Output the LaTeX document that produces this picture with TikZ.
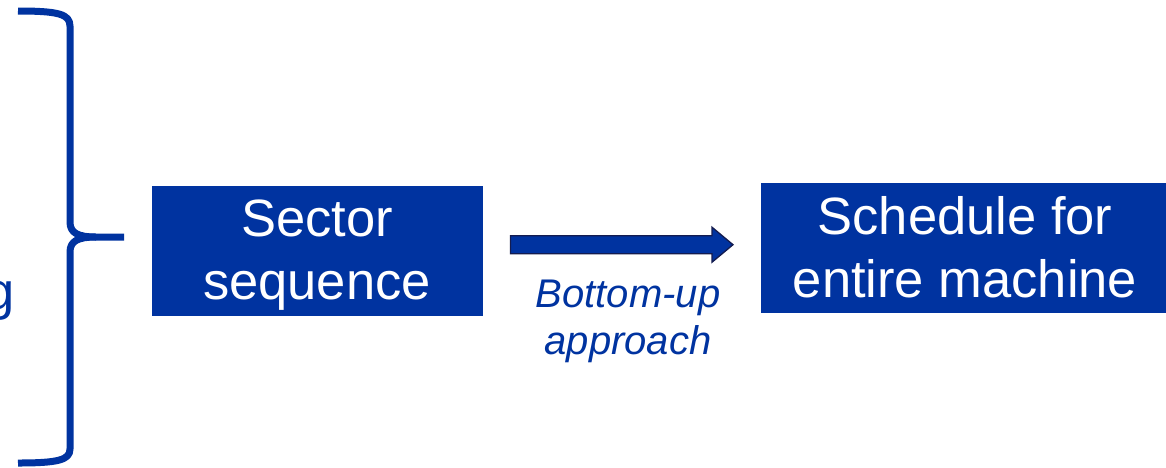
\documentclass[tikz,border=0pt]{standalone}
\usepackage{fontspec}
\setmainfont{Liberation Sans}
\usetikzlibrary{calc}
\definecolor{corpblue}{RGB}{0,51,160}
\definecolor{arrowedge}{RGB}{20,28,80}
\tikzset{
  bluebox/.style={fill=corpblue, draw=none, inner sep=0pt, anchor=north west},
  boxtext/.style={text=white, align=center, inner sep=0pt,
    font=\fontsize{52.5}{63}\selectfont},
  notetext/.style={text=corpblue, align=center, inner sep=0pt,
    font=\fontsize{40}{46.5}\selectfont\itshape},
  bracestroke/.style={draw=corpblue, line width=7pt, line cap=butt, line join=round},
  blockarrow/.style={fill=corpblue, draw=arrowedge, line width=1.3pt, line join=miter}
}
\begin{document}
\begin{tikzpicture}[x=1pt,y=-1pt]
\useasboundingbox (0,0) rectangle (1166,467);

% trailing letter of the grouped text on the left
\node[text=corpblue, inner sep=0pt, anchor=base east,
      font=\fontsize{52.5}{63}\selectfont] (lefttext) at (15,309) {g};

% right brace
\draw[bracestroke]
  (18,11) .. controls (58,11) and (70,14) .. (70,26)
  -- (70,222) .. controls (70,233) and (78,237) .. (96,237)
  -- (124,237);
\draw[bracestroke]
  (96,237) .. controls (78,237) and (70,241) .. (70,252)
  -- (70,449) .. controls (70,460) and (58,463) .. (18,463);
\coordinate (bracetip) at (124,237);

% boxes
\node[bluebox, minimum width=331pt, minimum height=130pt] (sector) at (152,186) {};
\node[boxtext] (sectortext) at (317,255.5) {Sector\\sequence};

\node[bluebox, minimum width=405pt, minimum height=130pt] (machine) at (761,183) {};
\node[boxtext] (machinetext) at (965,247.5) {Schedule for\\entire machine};

% block arrow between the boxes
\coordinate (atail) at ($(sector.east)+(27,-6.5)$);
\coordinate (ahead) at ($(machine.west)+(-28,-3.5)$);
\draw[blockarrow]
  ($(atail)+(0,-9)$) -- ($(ahead)+(-21,-9)$) -- ($(ahead)+(-21,-17.5)$)
  -- (ahead) -- ($(ahead)+(-21,17.5)$) -- ($(ahead)+(-21,9)$)
  -- ($(atail)+(0,9)$) -- cycle;

\node[notetext] (approach) at (628,321.5) {Bottom-up\\approach};
\end{tikzpicture}
\end{document}
